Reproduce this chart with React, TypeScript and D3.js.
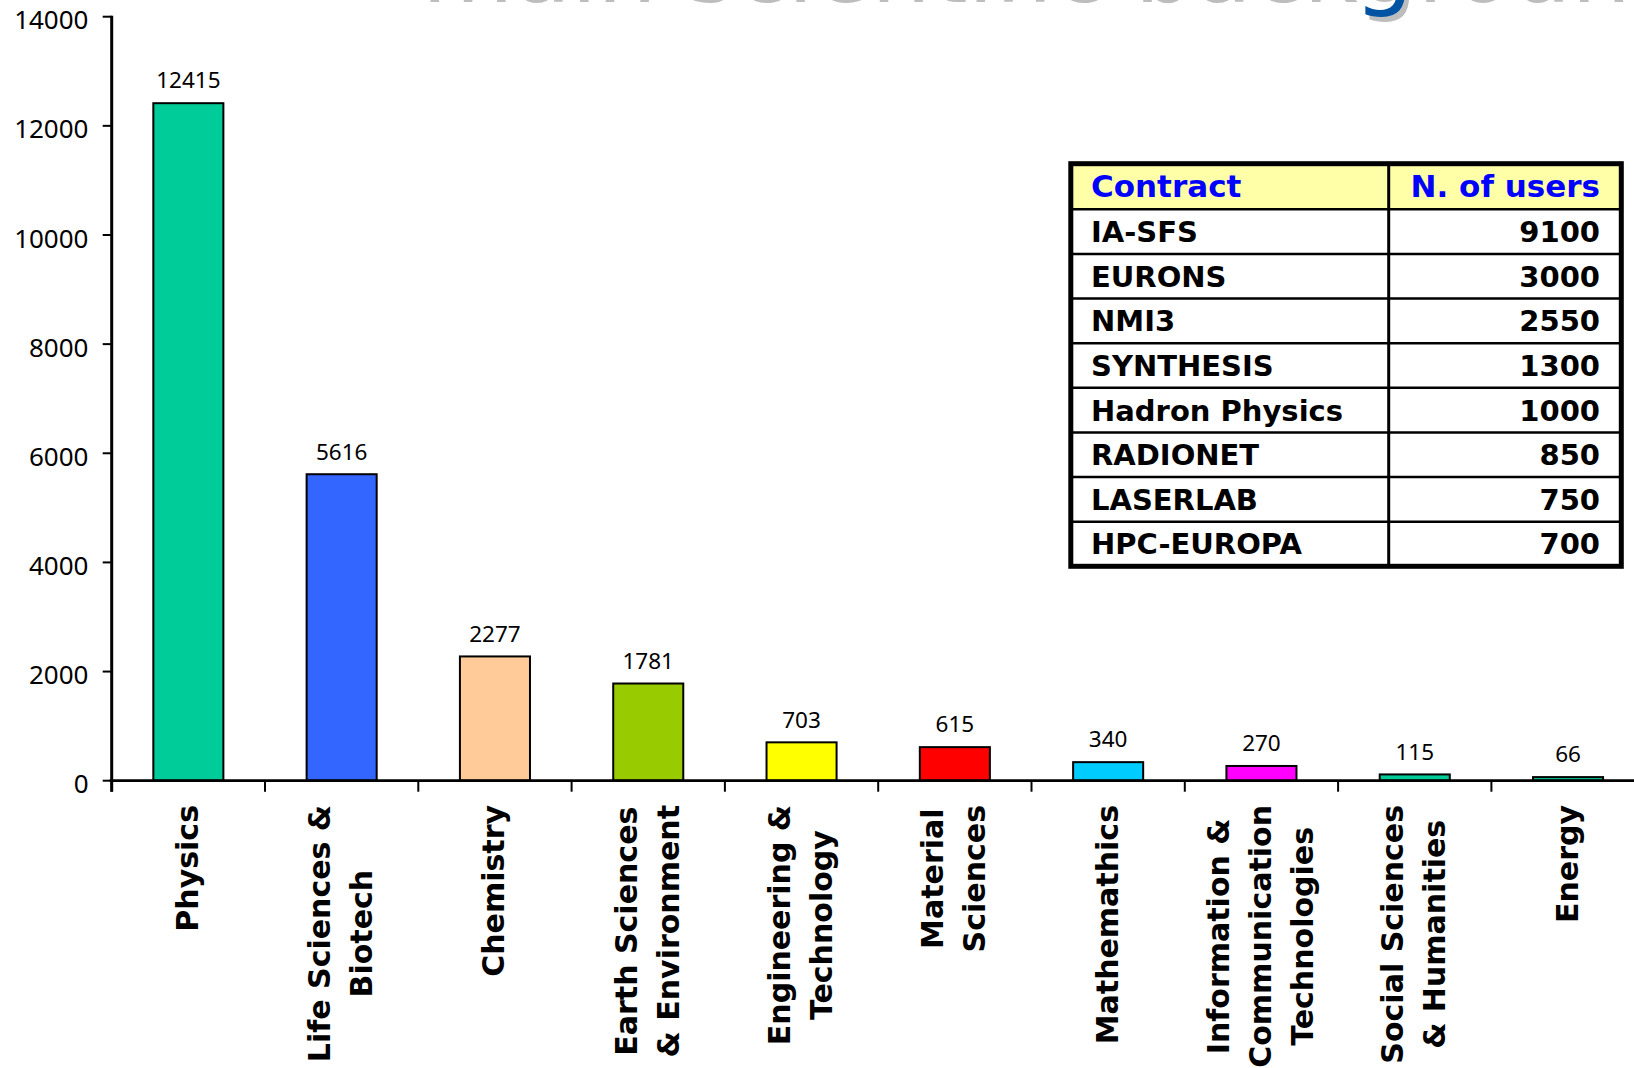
import React, { useEffect, useRef } from 'react';
import * as d3 from 'd3';

// ---- data ----
const categories = [
  "Physics",
  "Life Sciences &\nBiotech",
  "Chemistry",
  "Earth Sciences\n& Environment",
  "Engineering &\nTechnology",
  "Material\nSciences",
  "Mathemathics",
  "Information &\nCommunication\nTechnologies",
  "Social Sciences\n& Humanities",
  "Energy",
];
const userCounts = [12415, 5616, 2277, 1781, 703, 615, 340, 270, 115, 66];
const barColors = ["#00CC99", "#3366FF", "#FFCC99", "#99CC00", "#FFFF00", "#FF0000", "#00CCFF", "#FF00FF", "#00CC99", "#00CC99"];
const yTicks = [0, 2000, 4000, 6000, 8000, 10000, 12000, 14000];
const tableHeaders = ["Contract", "N. of users"];
const contracts = ["IA-SFS", "EURONS", "NMI3", "SYNTHESIS", "Hadron Physics", "RADIONET", "LASERLAB", "HPC-EUROPA"];
const contractUsers = [9100, 3000, 2550, 1300, 1000, 850, 750, 700];
const titleText = "main scientific background";

const W = 1634;
const H = 1068;

export default function App() {
  const ref = useRef<SVGSVGElement | null>(null);

  useEffect(() => {
    const svg = d3.select(ref.current);
    svg.selectAll('*').remove();

    // title (mostly cut off at the top)
    const tg = svg.append('g');
    tg.append('text')
      .attr('x', 422).attr('y', 2)
      .attr('font-family', 'DejaVu Sans, Verdana, sans-serif')
      .attr('font-size', 94)
      .attr('fill', '#BDBDBD')
      .text(titleText);
    tg.append('text')
      .attr('x', 418).attr('y', -3)
      .attr('font-family', 'DejaVu Sans, Verdana, sans-serif')
      .attr('font-size', 94)
      .attr('fill', '#0052A3')
      .text(titleText);

    const x0 = 111.7;
    const y = d3.scaleLinear().domain([0, 14000]).range([780.7, 16.7]);
    const x = d3.scaleBand<string>()
      .domain(categories)
      .range([x0, x0 + 153.3 * categories.length])
      .paddingInner(0.53)
      .paddingOuter(0.265);
    const bw = x.bandwidth();

    // bars
    svg.append('g').selectAll('rect')
      .data(categories)
      .join('rect')
      .attr('x', (d) => (x(d) as number) + 1)
      .attr('width', bw - 2)
      .attr('y', (d, i) => y(userCounts[i]))
      .attr('height', (d, i) => y(0) - y(userCounts[i]))
      .attr('fill', (d, i) => barColors[i])
      .attr('stroke', '#000')
      .attr('stroke-width', 2);

    // value labels
    svg.append('g').selectAll('text')
      .data(categories)
      .join('text')
      .attr('x', (d) => (x(d) as number) + bw / 2)
      .attr('y', (d, i) => y(userCounts[i]) - 14.7)
      .attr('text-anchor', 'middle')
      .attr('font-family', 'Noto Sans, sans-serif')
      .attr('font-size', 22.5)
      .attr('fill', '#000')
      .text((d, i) => String(userCounts[i]));

    // y axis
    const ya = svg.append('g');
    ya.append('line')
      .attr('x1', x0).attr('x2', x0)
      .attr('y1', y(14000) - 1).attr('y2', y(0) + 11)
      .attr('stroke', '#000').attr('stroke-width', 3);
    ya.selectAll('line.tick')
      .data(yTicks)
      .join('line')
      .attr('class', 'tick')
      .attr('x1', x0 - 9).attr('x2', x0)
      .attr('y1', (d) => y(d)).attr('y2', (d) => y(d))
      .attr('stroke', '#000').attr('stroke-width', 2);
    ya.selectAll('text')
      .data(yTicks)
      .join('text')
      .attr('x', 88.5)
      .attr('y', (d) => y(d) + 12.6)
      .attr('text-anchor', 'end')
      .attr('font-family', 'Noto Sans, sans-serif')
      .attr('font-size', 26)
      .attr('fill', '#000')
      .text((d) => String(d));

    // x axis
    const xa = svg.append('g');
    xa.append('line')
      .attr('x1', x0 - 2).attr('x2', W)
      .attr('y1', y(0)).attr('y2', y(0))
      .attr('stroke', '#000').attr('stroke-width', 2.7);
    const bounds = d3.range(categories.length + 1).map((i) => x0 + i * x.step());
    xa.selectAll('line.tick')
      .data(bounds)
      .join('line')
      .attr('class', 'tick')
      .attr('x1', (d) => d).attr('x2', (d) => d)
      .attr('y1', y(0)).attr('y2', y(0) + 11)
      .attr('stroke', '#000').attr('stroke-width', 2);

    // category labels (rotated, multi-line, centered lines, top-anchored)
    const lg = svg.append('g');
    const labelTop = 805;
    const lineGap = 42;
    categories.forEach((cat) => {
      const lines = cat.split('\n');
      const cx = (x(cat) as number) + bw / 2;
      const n = lines.length;
      const nodes = lines.map((ln, i) => {
        const bx = cx + 9.5 + (i - (n - 1) / 2) * lineGap;
        return lg.append('text')
          .attr('transform', `translate(${bx},${labelTop}) rotate(-90)`)
          .attr('font-family', 'DejaVu Sans, Verdana, sans-serif')
          .attr('font-weight', 'bold')
          .attr('font-size', 30)
          .attr('fill', '#000')
          .attr('text-anchor', 'middle')
          .text(ln);
      });
      const maxLen = d3.max(nodes, (t) => (t.node() as SVGTextElement).getComputedTextLength()) || 0;
      nodes.forEach((t) => t.attr('x', -maxLen / 2));
    });

    // table
    const tL = 1070.8, tR = 1621.3, tT = 163.7, tB = 566.3, hB = 209.3, colX = 1388.7;
    const rows = d3.scaleBand<string>().domain(contracts).range([hB, tB]);
    const tb = svg.append('g');
    tb.append('rect').attr('x', tL).attr('y', tT).attr('width', tR - tL).attr('height', tB - tT).attr('fill', '#fff');
    tb.append('rect').attr('x', tL).attr('y', tT).attr('width', tR - tL).attr('height', hB - tT).attr('fill', '#FFFFA8');
    tb.selectAll('line.row')
      .data(contracts)
      .join('line')
      .attr('class', 'row')
      .attr('x1', tL).attr('x2', tR)
      .attr('y1', (d) => rows(d) as number).attr('y2', (d) => rows(d) as number)
      .attr('stroke', '#000').attr('stroke-width', 2.5);
    tb.append('line')
      .attr('x1', colX).attr('x2', colX).attr('y1', tT).attr('y2', tB)
      .attr('stroke', '#000').attr('stroke-width', 3);
    tb.append('rect')
      .attr('x', tL).attr('y', tT).attr('width', tR - tL).attr('height', tB - tT)
      .attr('fill', 'none').attr('stroke', '#000').attr('stroke-width', 5);

    // header text
    tb.append('text')
      .attr('x', 1091).attr('y', 197.3)
      .attr('font-family', 'DejaVu Sans, Verdana, sans-serif')
      .attr('font-weight', 'bold').attr('font-size', 31).attr('fill', '#0000FF')
      .text(tableHeaders[0]);
    tb.append('text')
      .attr('x', 1600).attr('y', 197.3).attr('text-anchor', 'end')
      .attr('font-family', 'DejaVu Sans, Verdana, sans-serif')
      .attr('font-weight', 'bold').attr('font-size', 31).attr('fill', '#0000FF')
      .text(tableHeaders[1]);

    // body text
    tb.selectAll('text.name')
      .data(contracts)
      .join('text')
      .attr('class', 'name')
      .attr('x', 1091)
      .attr('y', (d) => (rows(d) as number) + rows.bandwidth() / 2 + 10.5)
      .attr('font-family', 'DejaVu Sans, Verdana, sans-serif')
      .attr('font-weight', 'bold').attr('font-size', 29).attr('fill', '#000')
      .text((d) => d);
    tb.selectAll('text.val')
      .data(contracts)
      .join('text')
      .attr('class', 'val')
      .attr('x', 1600)
      .attr('y', (d) => (rows(d) as number) + rows.bandwidth() / 2 + 10.5)
      .attr('text-anchor', 'end')
      .attr('font-family', 'DejaVu Sans, Verdana, sans-serif')
      .attr('font-weight', 'bold').attr('font-size', 29).attr('fill', '#000')
      .text((d, i) => String(contractUsers[i]));
  }, []);

  return (
    <svg
      ref={ref}
      width={W}
      height={H}
      style={{ position: 'absolute', left: 0, top: 0, background: '#fff', overflow: 'hidden' }}
    />
  );
}
